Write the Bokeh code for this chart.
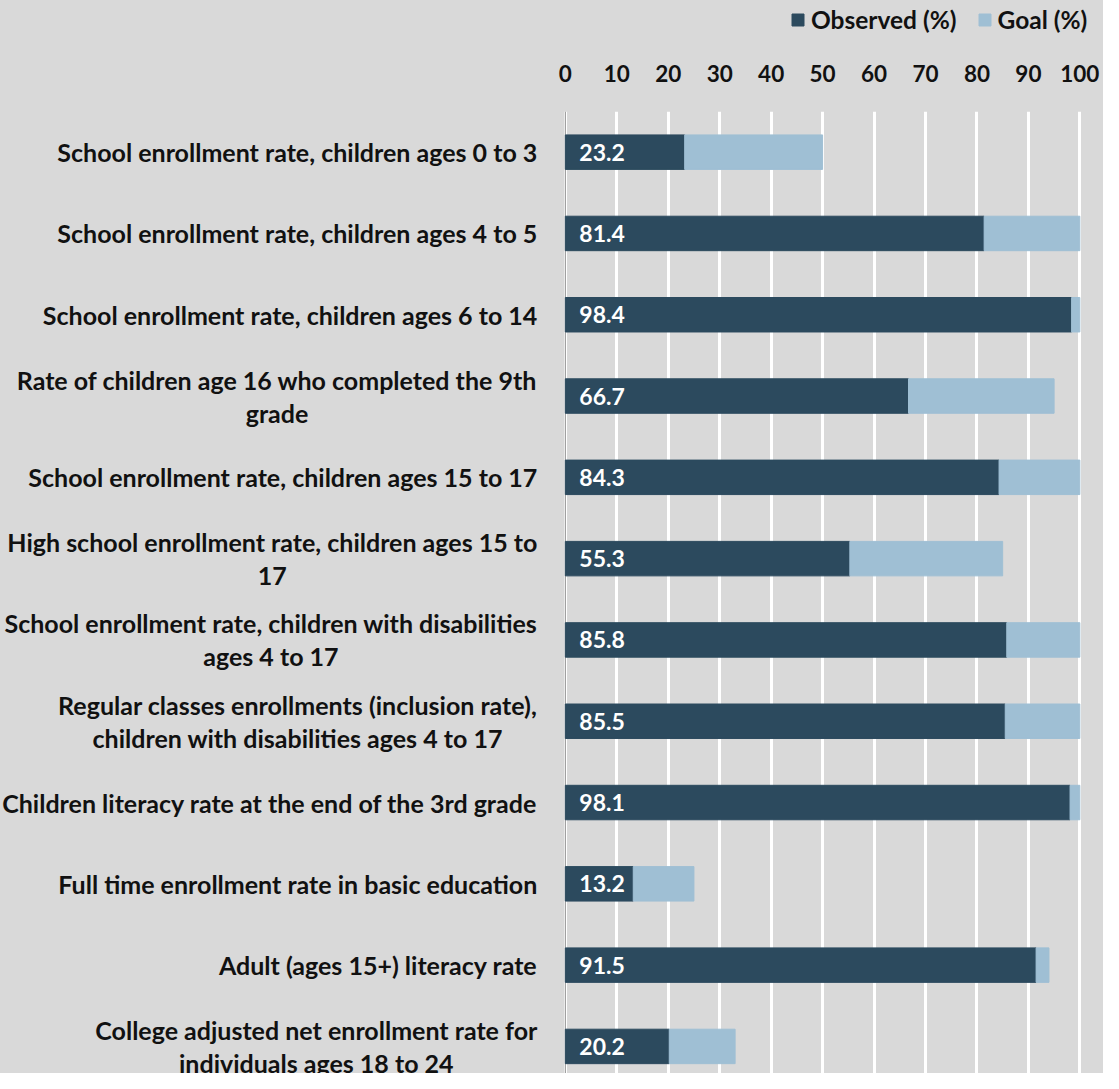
from bokeh.plotting import figure
from bokeh.layouts import column
from bokeh.models import Range1d, FixedTicker, Span, Legend, LegendItem, ColumnDataSource
from bokeh.core.properties import value
from bokeh.embed import file_html
from bokeh.resources import INLINE

categories = [
    "School enrollment rate, children ages 0 to 3",
    "School enrollment rate, children ages 4 to 5",
    "School enrollment rate, children ages 6 to 14",
    "Rate of children age 16 who completed the 9th\ngrade",
    "School enrollment rate, children ages 15 to 17",
    "High school enrollment rate, children ages 15 to\n17",
    "School enrollment rate, children with disabilities\nages 4 to 17",
    "Regular classes enrollments (inclusion rate),\nchildren with disabilities ages 4 to 17",
    "Children literacy rate at the end of the 3rd grade",
    "Full time enrollment rate in basic education",
    "Adult (ages 15+) literacy rate",
    "College adjusted net enrollment rate for\nindividuals ages 18 to 24",
]
observed = [23.2, 81.4, 98.4, 66.7, 84.3, 55.3, 85.8, 85.5, 98.1, 13.2, 91.5, 20.2]
goal = [50, 100, 100, 95, 100, 85, 100, 100, 100, 25, 94, 33]
x_ticks = [0, 10, 20, 30, 40, 50, 60, 70, 80, 90, 100]
series_names = ["Observed (%)", "Goal (%)"]

FONT = "Lato"
OBS_COLOR = "#2C4A5E"
GOAL_COLOR = "#9FBFD4"
BG = "#D9D9D9"
TXT = "#111111"
W = 1103
LEG_H = 40
MAIN_H = 1033

n = len(categories)
src = ColumnDataSource(dict(
    y=[i + 1 for i in range(n)],
    cat=categories,
    obs=observed,
    goal=goal,
    lab=[f"{v:.1f}" for v in observed],
))

# ---- legend strip on top ----
top = figure(
    width=W, height=LEG_H, x_range=Range1d(0, 1), y_range=Range1d(0, 1),
    output_backend="svg", toolbar_location=None, min_border=0,
    background_fill_color=BG, border_fill_color=BG,
    outline_line_color=BG, outline_line_width=2,
    styles={"background-color": BG},
)
top.axis.visible = False
top.grid.visible = False
# swatch renderers for the legend (kept outside the strip's visible range)
swatch = ColumnDataSource(dict(y=[-5], left=[0], right=[1]))
l_obs = top.hbar(y="y", left="left", right="right", height=1, fill_color=OBS_COLOR,
                 line_color=OBS_COLOR, source=swatch)
l_goal = top.hbar(y="y", left="left", right="right", height=1, fill_color=GOAL_COLOR,
                  line_color=GOAL_COLOR, source=swatch)
legend = Legend(
    items=[LegendItem(label=series_names[0], renderers=[l_obs]),
           LegendItem(label=series_names[1], renderers=[l_goal])],
    location=(790, 6), orientation="horizontal",
    background_fill_alpha=0, border_line_color=None,
    padding=0, margin=0, spacing=20, label_standoff=6,
    glyph_width=15, glyph_height=15, label_height=24,
    label_text_font=FONT, label_text_font_style="bold",
    label_text_font_size="24.5px", label_text_color=TXT,
)
top.add_layout(legend)

# ---- main chart ----
p = figure(
    width=W, height=MAIN_H,
    x_range=Range1d(-109.78, 104.6),
    y_range=Range1d(12.333, 0.5),
    x_axis_location="above",
    output_backend="svg", toolbar_location=None,
    min_border_top=71, min_border_left=0, min_border_right=0, min_border_bottom=0,
    background_fill_color=BG, border_fill_color=BG,
    outline_line_color=BG, outline_line_width=2,
    styles={"background-color": BG},
)

p.hbar(y="y", left=0, right="obs", height=0.424, fill_color=OBS_COLOR,
       line_color=OBS_COLOR, source=src)
p.hbar(y="y", left="obs", right="goal", height=0.424, fill_color=GOAL_COLOR,
       line_color=GOAL_COLOR, source=src)

p.text(x=0, y="y", text="lab", x_offset=14, text_align="left", text_baseline="middle",
       text_color="white", text_font=value(FONT), text_font_style="bold",
       text_font_size="23px", source=src)

p.text(x=0, y="y", text="cat", x_offset=-28, anchor=value("center_right"),
       text_align="center", text_baseline="middle", text_line_height=1.1,
       text_color=TXT, text_font=value(FONT), text_font_style="bold",
       text_font_size="25px", source=src)

ax = p.xaxis[0]
ax.ticker = FixedTicker(ticks=x_ticks)
ax.major_tick_line_color = None
ax.minor_tick_line_color = None
ax.axis_line_color = None
ax.major_label_standoff = 24
ax.major_label_text_font = FONT
ax.major_label_text_font_style = "bold"
ax.major_label_text_font_size = "22.5px"
ax.major_label_text_color = TXT

p.yaxis.visible = False
p.ygrid.visible = False
p.xgrid.grid_line_color = "white"
p.xgrid.grid_line_width = 3

p.add_layout(Span(location=0, dimension="height", line_color="#8C8C8C",
                  line_width=1, level="underlay"))

layout = column(top, p, spacing=0, styles={"background-color": BG})
open("out.html", "w").write(file_html(layout, INLINE))
